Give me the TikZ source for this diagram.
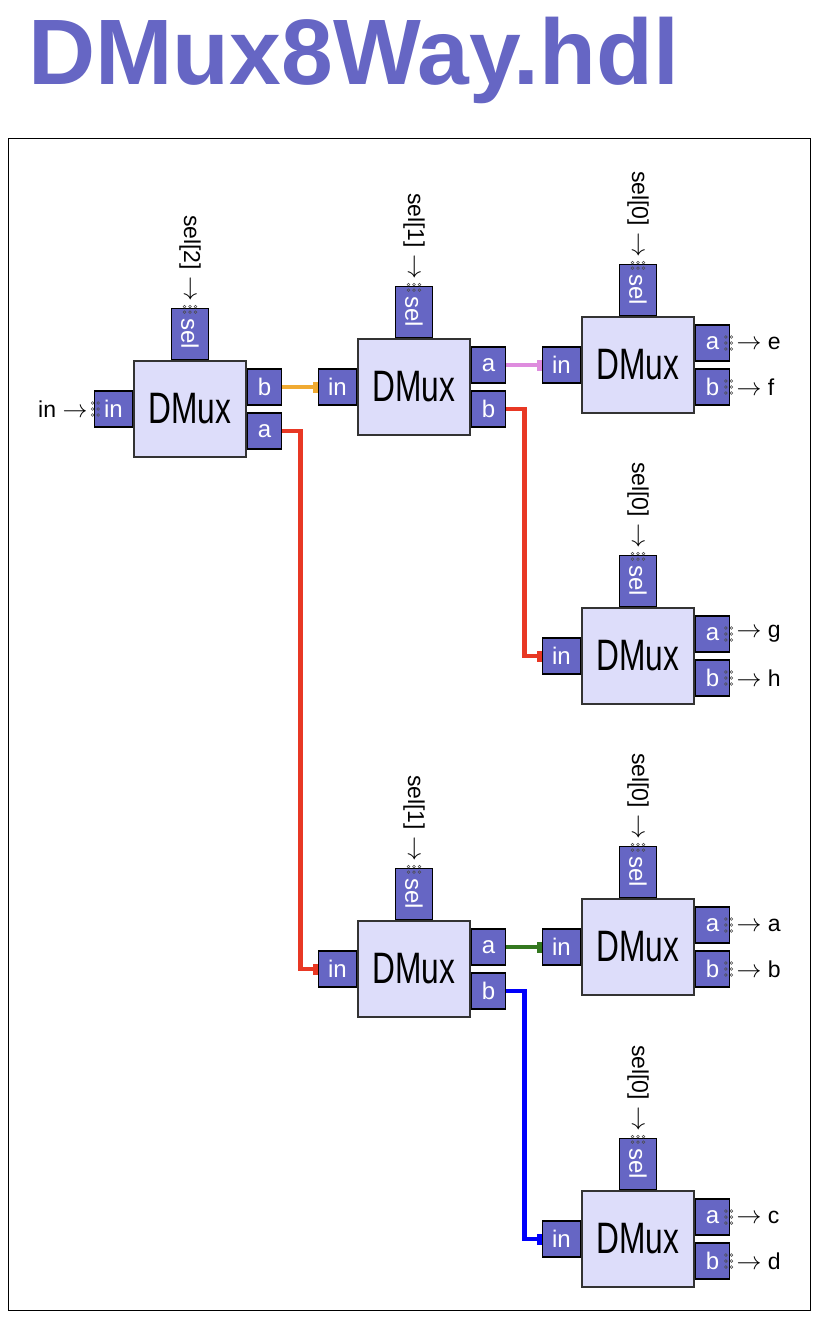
\documentclass[tikz,border=0pt]{standalone}
\usepackage{fontspec}
\setmainfont{Liberation Sans}
\usetikzlibrary{arrows.meta,positioning}
\definecolor{hdlblue}{RGB}{102,102,196}
\definecolor{chipfill}{RGB}{221,221,250}
\definecolor{wireorange}{RGB}{240,170,50}
\definecolor{wirered}{RGB}{232,56,36}
\definecolor{wirepink}{RGB}{222,140,222}
\definecolor{wiregreen}{RGB}{52,120,32}
\definecolor{wireblue}{RGB}{0,0,250}

\begin{document}
\begin{tikzpicture}[x=1pt, y=-1pt]
    \tikzset{chip/.style={draw=black!80, line width=1.6pt, fill=chipfill, minimum width=112pt, minimum height=96pt, inner sep=0pt, font=\fontsize{44}{44}\selectfont},
        pin/.style={draw, line width=1.6pt, fill=hdlblue, text=white, minimum height=36pt, inner sep=0pt, font=\fontsize{24}{24}\selectfont},
        inpin/.style={pin, minimum width=38pt},
        outpin/.style={pin, minimum width=34pt},
        selpin/.style={pin, rotate=-90, minimum width=51pt, minimum height=37pt},
        lbl/.style={inner sep=4pt, font=\fontsize{23}{23}\selectfont},
        sellbl/.style={lbl, rotate=-90, anchor=east, inner sep=6pt},
        wire/.style={line width=4.5pt, -{Square[length=5pt,width=11pt]}},
        pinhole/.style={draw=black!70, line width=0.6pt}}
    \useasboundingbox (0,0) rectangle (822,1324);
    \node[anchor=base west, inner sep=0pt, text=hdlblue, font=\fontsize{93}{93}\selectfont\bfseries] (title) at (28,85) {DMux8Way.hdl};
    \draw[line width=1pt] (8,139) rectangle (810,1310);
    % first stage
    \node[chip] (dm1) at (190,409) {\scalebox{0.72}[1]{DMux}};
    \node[inpin, anchor=east] (dm1in) at (dm1.west) {in};
    \node[selpin, anchor=east] (dm1sel) at (dm1.north) {sel};
    \node[outpin, anchor=west] (dm1b) at ([yshift=22pt]dm1.east) {b};
    \node[outpin, anchor=west] (dm1a) at ([yshift=-22pt]dm1.east) {a};
    % second stage
    \node[chip] (dm2) at (414,387) {\scalebox{0.72}[1]{DMux}};
    \node[inpin, anchor=east] (dm2in) at (dm2.west) {in};
    \node[selpin, anchor=east] (dm2sel) at (dm2.north) {sel};
    \node[outpin, anchor=west] (dm2a) at ([yshift=22pt]dm2.east) {a};
    \node[outpin, anchor=west] (dm2b) at ([yshift=-22pt]dm2.east) {b};
    \node[chip] (dm5) at (414,969) {\scalebox{0.72}[1]{DMux}};
    \node[inpin, anchor=east] (dm5in) at (dm5.west) {in};
    \node[selpin, anchor=east] (dm5sel) at (dm5.north) {sel};
    \node[outpin, anchor=west] (dm5a) at ([yshift=22pt]dm5.east) {a};
    \node[outpin, anchor=west] (dm5b) at ([yshift=-22pt]dm5.east) {b};
    % third stage
    \node[chip] (dm3) at (638,365) {\scalebox{0.72}[1]{DMux}};
    \node[inpin, anchor=east] (dm3in) at (dm3.west) {in};
    \node[selpin, anchor=east] (dm3sel) at (dm3.north) {sel};
    \node[outpin, anchor=west] (dm3a) at ([yshift=22pt]dm3.east) {a};
    \node[outpin, anchor=west] (dm3b) at ([yshift=-22pt]dm3.east) {b};
    \node[chip] (dm4) at (638,656) {\scalebox{0.72}[1]{DMux}};
    \node[inpin, anchor=east] (dm4in) at (dm4.west) {in};
    \node[selpin, anchor=east] (dm4sel) at (dm4.north) {sel};
    \node[outpin, anchor=west] (dm4a) at ([yshift=22pt]dm4.east) {a};
    \node[outpin, anchor=west] (dm4b) at ([yshift=-22pt]dm4.east) {b};
    \node[chip] (dm6) at (638,947) {\scalebox{0.72}[1]{DMux}};
    \node[inpin, anchor=east] (dm6in) at (dm6.west) {in};
    \node[selpin, anchor=east] (dm6sel) at (dm6.north) {sel};
    \node[outpin, anchor=west] (dm6a) at ([yshift=22pt]dm6.east) {a};
    \node[outpin, anchor=west] (dm6b) at ([yshift=-22pt]dm6.east) {b};
    \node[chip] (dm7) at (638,1239) {\scalebox{0.72}[1]{DMux}};
    \node[inpin, anchor=east] (dm7in) at (dm7.west) {in};
    \node[selpin, anchor=east] (dm7sel) at (dm7.north) {sel};
    \node[outpin, anchor=west] (dm7a) at ([yshift=22pt]dm7.east) {a};
    \node[outpin, anchor=west] (dm7b) at ([yshift=-22pt]dm7.east) {b};
    % input and select labels
    \node[lbl, anchor=east, inner sep=6pt] (inlbl) at (dm1in.west) {in $\rightarrow$};
    \node[sellbl] (sel2lbl) at (dm1sel.west) {sel[2] $\rightarrow$};
    \node[sellbl] (sel1lbl) at (dm2sel.west) {sel[1] $\rightarrow$};
    \node[sellbl] (sel1lblb) at (dm5sel.west) {sel[1] $\rightarrow$};
    \node[sellbl] (sel0lbl) at (dm3sel.west) {sel[0] $\rightarrow$};
    \node[sellbl] (sel0lblb) at (dm4sel.west) {sel[0] $\rightarrow$};
    \node[sellbl] (sel0lblc) at (dm6sel.west) {sel[0] $\rightarrow$};
    \node[sellbl] (sel0lbld) at (dm7sel.west) {sel[0] $\rightarrow$};
    % outputs
    \node[lbl, anchor=west, inner sep=6pt] (elbl) at (dm3a.east) {$\rightarrow$ e};
    \node[lbl, anchor=west, inner sep=6pt] (flbl) at (dm3b.east) {$\rightarrow$ f};
    \node[lbl, anchor=west, inner sep=6pt] (glbl) at (dm4a.east) {$\rightarrow$ g};
    \node[lbl, anchor=west, inner sep=6pt] (hlbl) at (dm4b.east) {$\rightarrow$ h};
    \node[lbl, anchor=west, inner sep=6pt] (albl) at (dm6a.east) {$\rightarrow$ a};
    \node[lbl, anchor=west, inner sep=6pt] (blbl) at (dm6b.east) {$\rightarrow$ b};
    \node[lbl, anchor=west, inner sep=6pt] (clbl) at (dm7a.east) {$\rightarrow$ c};
    \node[lbl, anchor=west, inner sep=6pt] (dlbl) at (dm7b.east) {$\rightarrow$ d};
    % wires
    \draw[wire, wireorange] (dm1b.east) -- (dm2in.west);
    \draw[wire, wirered] (dm1a.east) -- ++(18,0) |- (dm5in.west);
    \draw[wire, wirepink] (dm2a.east) -- (dm3in.west);
    \draw[wire, wirered] (dm2b.east) -- ++(18,0) |- (dm4in.west);
    \draw[wire, wiregreen] (dm5a.east) -- (dm6in.west);
    \draw[wire, wireblue] (dm5b.east) -- ++(18,0) |- (dm7in.west);
    % open pins
    \foreach \p/\d in {dm1in.west/1, dm3a.east/-1, dm3b.east/-1, dm4a.east/-1, dm4b.east/-1, dm6a.east/-1, dm6b.east/-1, dm7a.east/-1, dm7b.east/-1}
        \foreach \c in {-1,4.5}
            \foreach \r in {-6,0,6}
                \draw[pinhole] ([shift={({\d*\c},\r)}]\p) circle (1.4);
    \foreach \p in {dm1sel.west, dm2sel.west, dm3sel.west, dm4sel.west, dm5sel.west, dm6sel.west, dm7sel.west}
        \foreach \c in {-1,4.5}
            \foreach \r in {-5.5,0,5.5}
                \draw[pinhole] ([shift={(\r,\c)}]\p) circle (1.4);
\end{tikzpicture}
\end{document}
